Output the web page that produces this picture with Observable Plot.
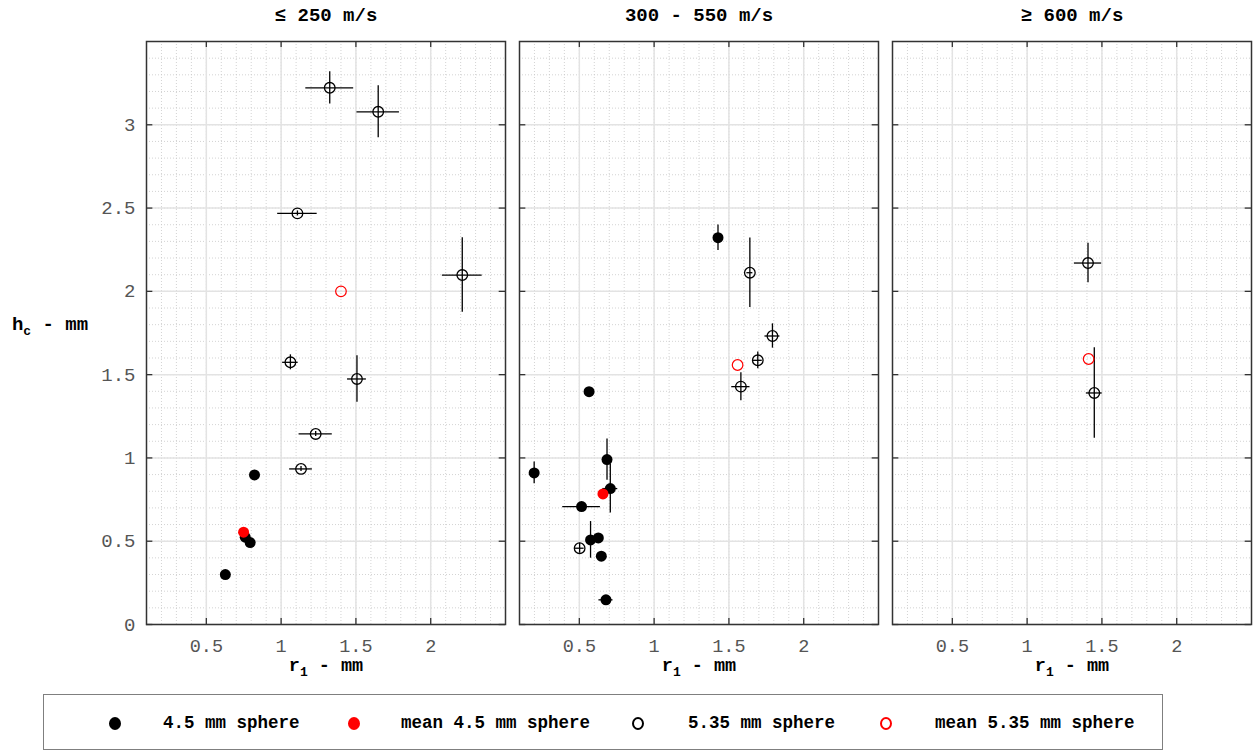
<!DOCTYPE html>
<html>
<head>
<meta charset="utf-8">
<script src="https://cdn.jsdelivr.net/npm/d3@7"></script>
<script src="https://cdn.jsdelivr.net/npm/@observablehq/plot@0.6"></script>
<style>
  body { margin: 0; background: #fff; }
  #wrap { position: relative; width: 1253px; height: 753px; font-family: "Liberation Mono", "DejaVu Sans Mono", monospace; }
  #legend { position: absolute; left: 43px; top: 694px; width: 1120px; height: 56px; border: 1px solid #7f7f7f; box-sizing: border-box; background: #fff; }
  .lt { position: absolute; top: 0; height: 54px; font: bold 17.5px "Liberation Mono", monospace; line-height: 54px; color: #000; white-space: pre; }
  .lm { position: absolute; box-sizing: border-box; border-radius: 50%; }
</style>
</head>
<body>
<div id="wrap"><div id="chart"></div><div id="legend"></div></div>
<script>
// ---------- data ----------
const panels = ["≤ 250 m/s", "300 - 550 m/s", "≥ 600 m/s"];
const xTicks = [0.5, 1, 1.5, 2];
const xTickLabels = ["0.5", "1", "1.5", "2"];
const yTicks = [0, 0.5, 1, 1.5, 2, 2.5, 3];
const yTickLabels = ["0", "0.5", "1", "1.5", "2", "2.5", "3"];

// 4.5 mm sphere (filled black)
const s45Panel = [0, 0, 0, 0, 1, 1, 1, 1, 1, 1, 1, 1, 1, 1];
const s45X  = [0.822, 0.760, 0.793, 0.627, 1.427, 0.565, 0.198, 0.685, 0.707, 0.515, 0.575, 0.627, 0.647, 0.678];
const s45Y  = [0.898, 0.524, 0.492, 0.300, 2.322, 1.398, 0.910, 0.990, 0.816, 0.708, 0.508, 0.520, 0.410, 0.148];
const s45XE = [0, 0, 0, 0, 0, 0, 0, 0, 0.05, 0.126, 0, 0, 0, 0.047];
const s45YE = [0, 0, 0, 0, 0.077, 0.015, 0.065, 0.124, 0.146, 0, 0.11, 0, 0, 0];

// mean 4.5 mm sphere (filled red)
const m45Panel = [0, 1];
const m45X = [0.749, 0.658];
const m45Y = [0.554, 0.784];

// 5.35 mm sphere (open black)
const s535Panel = [0, 0, 0, 0, 0, 0, 0, 0, 1, 1, 1, 1, 1, 2, 2];
const s535X  = [1.325, 1.649, 1.109, 2.211, 1.062, 1.507, 1.231, 1.133, 1.640, 1.791, 1.693, 1.580, 0.502, 1.407, 1.449];
const s535Y  = [3.222, 3.078, 2.468, 2.098, 1.574, 1.474, 1.144, 0.934, 2.112, 1.732, 1.586, 1.428, 0.458, 2.170, 1.390];
const s535XE = [0.160, 0.142, 0.132, 0.133, 0.052, 0.063, 0.111, 0.076, 0.020, 0.050, 0.030, 0.061, 0.030, 0.091, 0.053];
const s535YE = [0.097, 0.156, 0.015, 0.224, 0.045, 0.140, 0.015, 0.015, 0.209, 0.073, 0.050, 0.084, 0.030, 0.119, 0.272];

// mean 5.35 mm sphere (open red)
const m535Panel = [0, 1, 2];
const m535X = [1.400, 1.558, 1.411];
const m535Y = [2.000, 1.558, 1.594];

const legendLabels = ["4.5 mm sphere", "mean 4.5 mm sphere", "5.35 mm sphere", "mean 5.35 mm sphere"];
const legendColors = ["#000", "#ff0000", "#000", "#ff0000"];
const legendFilled = [true, true, false, false];

// ---------- build tables ----------
function rows(P, X, Y, XE, YE) {
  return P.map((p, i) => ({panel: panels[p], x: X[i], y: Y[i], xe: XE ? XE[i] : 0, ye: YE ? YE[i] : 0}));
}
const d45 = rows(s45Panel, s45X, s45Y, s45XE, s45YE);
const dm45 = rows(m45Panel, m45X, m45Y);
const d535 = rows(s535Panel, s535X, s535Y, s535XE, s535YE);
const dm535 = rows(m535Panel, m535X, m535Y);
const errs = [...d45, ...d535];

const xMinor = d3.range(2, 25).map(i => i / 10);
const yMinor = d3.range(1, 35).map(i => i / 10);

const W = 1253, H = 690, mT = 41, mB = 66, mL = 146, mR = 2;
const frameH = H - mT - mB;
const pin = 0.0388;
const bw = (W - mL - mR) / (3 - pin) * (1 - pin);

const fmtX = d => xTickLabels[xTicks.indexOf(d)];
const fmtY = d => yTickLabels[yTicks.indexOf(d)];

const plot = Plot.plot({
  width: W, height: H,
  marginTop: mT, marginBottom: mB, marginLeft: mL, marginRight: mR,
  style: {fontFamily: "'Liberation Mono', monospace", background: "#fff"},
  fx: {domain: panels, paddingInner: pin, paddingOuter: 0, label: null},
  x: {domain: [0.1, 2.5]},
  y: {domain: [0, 3.5]},
  axis: null,
  marks: [
    Plot.ruleX(xMinor, {stroke: "#c8c8c8", strokeWidth: 0.8, strokeDasharray: "1,2"}),
    Plot.ruleY(yMinor, {stroke: "#c8c8c8", strokeWidth: 0.8, strokeDasharray: "1,2"}),
    Plot.ruleX(xTicks, {stroke: "#e3e3e3", strokeWidth: 1.5}),
    Plot.ruleY(yTicks, {stroke: "#e3e3e3", strokeWidth: 1.5}),
    Plot.frame({stroke: "#333", strokeWidth: 1.5}),
    Plot.tickX(xTicks, {x: d => d, stroke: "#333", strokeWidth: 1.3, insetTop: frameH - 6}),
    Plot.tickX(xTicks, {x: d => d, stroke: "#333", strokeWidth: 1.3, insetBottom: frameH - 6}),
    Plot.tickY(yTicks, {y: d => d, stroke: "#333", strokeWidth: 1.3, insetRight: bw - 6}),
    Plot.tickY(yTicks, {y: d => d, stroke: "#333", strokeWidth: 1.3, insetLeft: bw - 6}),
    Plot.ruleY(errs.filter(d => d.xe > 0), {fx: "panel", y: "y", x1: d => d.x - d.xe, x2: d => d.x + d.xe, stroke: "#000", strokeWidth: 1.3}),
    Plot.ruleX(errs.filter(d => d.ye > 0), {fx: "panel", x: "x", y1: d => d.y - d.ye, y2: d => d.y + d.ye, stroke: "#000", strokeWidth: 1.3}),
    Plot.dot(d45, {fx: "panel", x: "x", y: "y", r: 5.5, fill: "#000", stroke: "none"}),
    Plot.dot(dm45, {fx: "panel", x: "x", y: "y", r: 5.5, fill: "#ff0000", stroke: "none"}),
    Plot.dot(d535, {fx: "panel", x: "x", y: "y", r: 5.3, fill: "none", stroke: "#000", strokeWidth: 1.3}),
    Plot.dot(dm535, {fx: "panel", x: "x", y: "y", r: 5.3, fill: "none", stroke: "#ff0000", strokeWidth: 1.2}),
    Plot.axisFx({anchor: "top", tickSize: 0, tickPadding: 21, fontSize: 19, fontWeight: "bold", fill: "#000", label: null}),
    Plot.axisX({anchor: "bottom", ticks: xTicks, tickFormat: fmtX, tickSize: 0, tickPadding: 14, fontSize: 18.5, fill: "#555", label: null}),
    Plot.axisY({anchor: "left", ticks: yTicks, tickFormat: fmtY, tickSize: 0, tickPadding: 11, fontSize: 19, fill: "#555", label: null}),
    Plot.text(panels, {fx: d => d, frameAnchor: "bottom", lineAnchor: "middle", dy: 41, text: () => "r1 - mm", fontSize: 18.5, fontWeight: "bold", fill: "#000"}),
    Plot.text([panels[0]], {fx: d => d, frameAnchor: "left", lineAnchor: "middle", dx: -96.5, dy: -9.5, textAnchor: "middle", text: () => "hc - mm", fontSize: 19, fontWeight: "bold", fill: "#000"})
  ]
});
document.getElementById("chart").appendChild(plot);

// subscripts
d3.select(plot).selectAll("text").each(function() {
  const t = this.textContent;
  if (t === "r1 - mm" || t === "hc - mm") {
    const sel = d3.select(this);
    sel.text(null);
    sel.append("tspan").text(t[0]);
    sel.append("tspan").attr("dy", 5).attr("font-size", 13).text(t[1]);
    sel.append("tspan").attr("dy", -5).text(t.slice(2));
  }
});

// legend
const markerX = [115, 354, 638, 886];
const textX = [163, 401, 688, 935];
const leg = document.getElementById("legend");
legendLabels.forEach((lab, i) => {
  const m = document.createElement("div");
  m.className = "lm";
  const w = 12, h = 13;
  m.style.width = w + "px"; m.style.height = h + "px";
  m.style.left = (markerX[i] - 44 - w / 2) + "px";
  m.style.top = (723 - 695 - h / 2) + "px";
  if (legendFilled[i]) { m.style.background = legendColors[i]; }
  else { m.style.border = "2.5px solid " + legendColors[i]; }
  leg.appendChild(m);
  const t = document.createElement("div");
  t.className = "lt";
  t.style.left = (textX[i] - 44) + "px";
  t.style.top = "1px";
  t.textContent = lab;
  leg.appendChild(t);
});
</script>
</body>
</html>
